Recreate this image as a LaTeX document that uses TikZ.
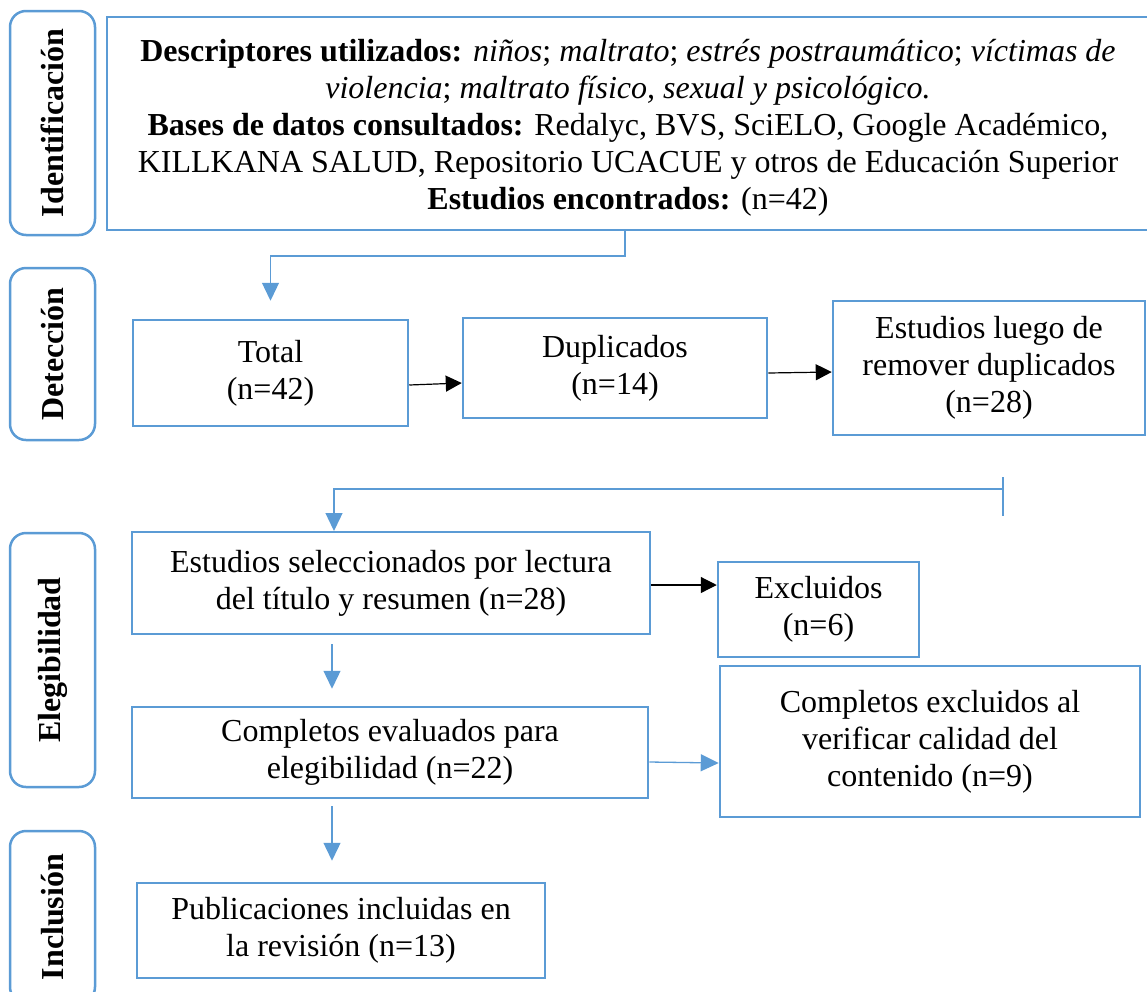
\documentclass[tikz,border=0pt]{standalone}
\usepackage{fontspec}
\setmainfont{Liberation Serif}
\usetikzlibrary{arrows.meta}
\definecolor{myblue}{RGB}{91,155,213}
\begin{document}
\begin{tikzpicture}[x=1pt,y=-1pt,
  box/.style={draw=myblue,line width=2.5pt,align=center,inner sep=0pt,font=\fontsize{32}{37}\selectfont},
  lab/.style={draw=myblue,line width=2.5pt,rounded corners=16pt,rotate=90,minimum height=85pt,inner sep=0pt,font=\fontsize{32}{36}\selectfont\bfseries},
  conn/.style={draw=myblue,line width=1.3pt,-{Triangle[length=18pt,width=17pt]}},
  blk/.style={draw=black,line width=1.2pt,-{Triangle[length=16pt,width=16pt]}}
]
\useasboundingbox (0,0) rectangle (1147,991);

% stage labels
\node[lab,minimum width=224pt] (ident) at (52.5,123) {Identificación};
\node[lab,minimum width=172pt] (detec) at (52.5,354) {Detección};
\node[lab,minimum width=254pt] (eleg) at (52.5,660) {Elegibilidad};
\node[lab,minimum width=172pt] (incl) at (52.5,917) {Inclusión};

% boxes
\node[box,minimum width=1042pt,minimum height=213pt] (top) at (628,123.5)
 {\rule{0pt}{30pt}\textbf{Descriptores utilizados:} \textit{niños}; \textit{maltrato}; \textit{estrés postraumático}; \textit{víctimas de}\\
  \textit{violencia}; \textit{maltrato físico, sexual y psicológico.}\\
  \textbf{Bases de datos consultados:} Redalyc, BVS, SciELO, Google Académico,\\
  KILLKANA SALUD, Repositorio UCACUE y otros de Educación Superior\\
  \textbf{Estudios encontrados:} (n=42)};

\node[box,minimum width=275pt,minimum height=106pt] (total) at (270.5,373) {Total\\(n=42)};
\node[box,minimum width=304pt,minimum height=100pt] (dup) at (615,368) {Duplicados\\(n=14)};
\node[box,minimum width=312pt,minimum height=134pt] (estud) at (989,368) {Estudios luego de\\remover duplicados\\(n=28)};

\node[box,minimum width=518pt,minimum height=102pt] (sel) at (391,583) {Estudios seleccionados por lectura\\del título y resumen (n=28)};
\node[box,minimum width=201pt,minimum height=95pt] (excl) at (818.5,609.5) {Excluidos\\(n=6)};
\node[box,minimum width=516pt,minimum height=91pt] (compl) at (390,752.5) {Completos evaluados para\\elegibilidad (n=22)};
\node[box,minimum width=420pt,minimum height=151pt] (cexcl) at (930,741.5) {Completos excluidos al\\verificar calidad del\\contenido (n=9)};
\node[box,minimum width=408pt,minimum height=95pt] (pub) at (341,930.5) {Publicaciones incluidas en\\la revisión (n=13)};

% connectors
\coordinate (c1) at (625,230);
\coordinate (c1b) at (625,256);
\draw[conn] (c1) -- (c1b) -| ([yshift=18pt]total.north);

\draw[blk] ([yshift=-12pt]total.east) -- ([yshift=-15pt]dup.west);
\draw[blk] ([yshift=-5pt]dup.east) -- ([yshift=-4pt]estud.west);

\coordinate (t1) at (1003,477);
\coordinate (t2) at (1003,516);
\coordinate (h1) at (1003,489);
\coordinate (s1) at (334,531);
\draw[myblue,line width=1.3pt] (t1) -- (t2);
\draw[conn] (h1) -| (s1);

\coordinate (ax) at (332,0);
\draw[conn,shorten <=9pt,shorten >=17pt] (sel.south -| ax) -- (compl.north -| ax);
\draw[conn,shorten <=7pt,shorten >=21pt] (compl.south -| ax) -- (pub.north -| ax);

\draw[blk] ([yshift=-2pt]sel.east) -- ([yshift=24.5pt]excl.west);
\draw[conn] ([yshift=-9.5pt]compl.east) -- ([yshift=-21.5pt]cexcl.west);
\end{tikzpicture}
\end{document}
